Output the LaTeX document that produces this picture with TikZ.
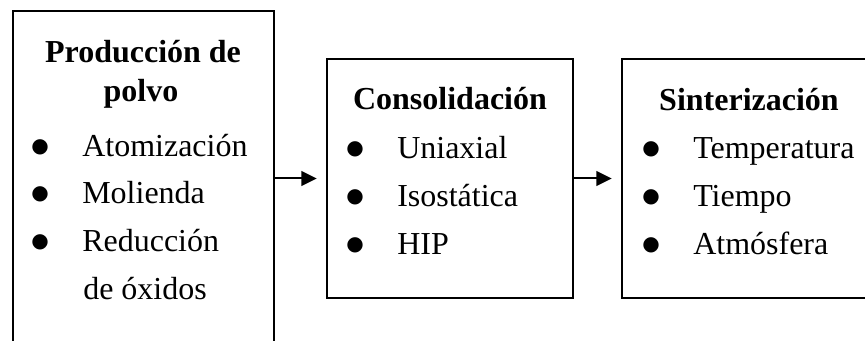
\documentclass[tikz,border=0pt]{standalone}
\usepackage{fontspec}
\setmainfont{Liberation Serif}
\newfontfamily\simbolos{DejaVu Sans}
\usetikzlibrary{arrows.meta}

\newcommand{\vineta}{\llap{\raisebox{3pt}{\simbolos\fontsize{15}{15}\selectfont ●}\hspace{25pt}}}

\begin{document}
\begin{tikzpicture}[x=0.75pt,y=-0.75pt,
    caja/.style={draw, rectangle, line width=1.5pt, inner sep=0pt},
    titulo/.style={inner sep=0pt, anchor=base, font=\fontsize{24}{28}\selectfont\bfseries},
    texto/.style={inner sep=0pt, anchor=base west, font=\fontsize{24}{28}\selectfont},
    flecha/.style={-{Triangle[length=11.5pt,width=11pt]}, line width=1.5pt, shorten >=7pt}]
        \useasboundingbox (0,0) rectangle (865,341);
        \clip (0,0) rectangle (865,341);
        \node[caja, minimum width=196pt, minimum height=251.25pt] (prod) at (143.25,178.5) {};
        \node[caja, minimum width=184.5pt, minimum height=179.25pt] (cons) at (450,178.5) {};
        \node[caja, minimum width=190.5pt, minimum height=179.25pt] (sint) at (749,178.5) {};
        \draw[flecha] (prod) -- (cons);
        \draw[flecha] (cons) -- (sint);
        % produccion de polvo
        \node[titulo] (prodtit) at (143,63) {Producción de};
        \node[titulo] (prodtitb) at (141,102) {polvo};
        \node[texto] (atom) at (82,157) {\vineta Atomización};
        \node[texto] (moli) at (82,204) {\vineta Molienda};
        \node[texto] (redu) at (82,252) {\vineta Reducción};
        \node[texto] (oxid) at (83,300) {de óxidos};
        % consolidacion
        \node[titulo] (constit) at (450,110) {Consolidación};
        \node[texto] (unia) at (397,159) {\vineta Uniaxial};
        \node[texto] (isos) at (397,207) {\vineta Isostática};
        \node[texto] (hip) at (397,255) {\vineta HIP};
        % sinterizacion
        \node[titulo] (sinttit) at (749,111) {Sinterización};
        \node[texto] (temp) at (693,159) {\vineta Temperatura};
        \node[texto] (tiem) at (693,207) {\vineta Tiempo};
        \node[texto] (atmo) at (693,255) {\vineta Atmósfera};
    \end{tikzpicture}
\end{document}
